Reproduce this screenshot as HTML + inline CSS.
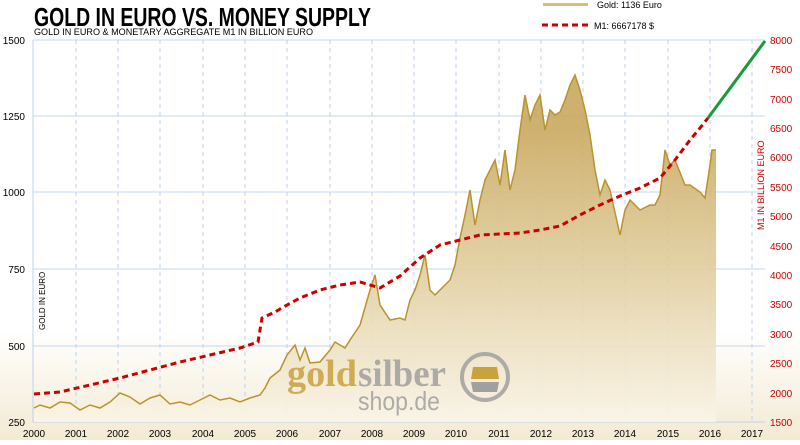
<!DOCTYPE html>
<html><head><meta charset="utf-8"><style>
body{margin:0;width:800px;height:440px;overflow:hidden;background:#fff;font-family:"Liberation Sans",sans-serif}
</style></head><body>
<svg width="800" height="440" xmlns="http://www.w3.org/2000/svg" font-family="Liberation Sans, sans-serif">
<defs>
<linearGradient id="bg" x1="0" y1="0" x2="0" y2="1">
<stop offset="0.75" stop-color="#fff"/><stop offset="1" stop-color="#f3ead3"/></linearGradient>
<linearGradient id="gf" x1="0" y1="0" x2="0" y2="1">
<stop offset="0.15" stop-color="#c9a85e"/><stop offset="0.6" stop-color="#e3d1a5"/><stop offset="1" stop-color="#faf5e8"/></linearGradient>
</defs>
<rect x="0" y="0" width="800" height="440" fill="url(#bg)"/>
<g stroke="#c5d8ee" stroke-width="1">
<line x1="33" y1="40" x2="765" y2="40"/><line x1="33" y1="116" x2="765" y2="116"/><line x1="33" y1="192" x2="765" y2="192"/><line x1="33" y1="269" x2="765" y2="269"/><line x1="33" y1="346" x2="765" y2="346"/>
</g>
<g stroke="#bcd2ec" stroke-dasharray="4,4">
<line x1="76" y1="40" x2="76" y2="422"/><line x1="118" y1="40" x2="118" y2="422"/><line x1="160" y1="40" x2="160" y2="422"/><line x1="203" y1="40" x2="203" y2="422"/><line x1="245" y1="40" x2="245" y2="422"/><line x1="287" y1="40" x2="287" y2="422"/><line x1="330" y1="40" x2="330" y2="422"/><line x1="372" y1="40" x2="372" y2="422"/><line x1="414" y1="40" x2="414" y2="422"/><line x1="456" y1="40" x2="456" y2="422"/><line x1="499" y1="40" x2="499" y2="422"/><line x1="541" y1="40" x2="541" y2="422"/><line x1="583" y1="40" x2="583" y2="422"/><line x1="625" y1="40" x2="625" y2="422"/><line x1="668" y1="40" x2="668" y2="422"/><line x1="710" y1="40" x2="710" y2="422"/><line x1="752" y1="40" x2="752" y2="422"/>
</g>
<line x1="33" y1="40" x2="33" y2="422" stroke="#bcd2ec"/>
<line x1="33" y1="422" x2="765" y2="422" stroke="#bcd2ec"/>
<path d="M34,408 L40,405 L50,408 L60,402 L70,403 L80,410 L90,405 L100,408 L110,402 L120,393 L130,397 L140,404 L150,398 L160,395 L170,404 L180,402 L190,405 L200,400 L210,395 L220,400 L230,398 L240,402 L250,398 L260,395 L265,388 L270,378 L280,370 L287,355 L295,345 L300,360 L305,348 L310,363 L320,362 L330,350 L335,342 L345,348 L350,340 L360,325 L370,290 L375,275 L380,305 L390,320 L400,318 L405,320 L410,300 L415,290 L420,275 L425,255 L430,290 L435,295 L440,290 L450,280 L455,265 L460,238 L465,215 L470,190 L475,225 L480,200 L485,180 L490,170 L495,160 L500,185 L505,150 L510,190 L515,170 L520,130 L525,95 L530,120 L535,105 L540,95 L545,130 L550,110 L555,115 L560,112 L565,100 L570,85 L575,75 L580,90 L585,110 L590,135 L595,170 L600,195 L605,180 L610,190 L620,235 L625,210 L630,200 L640,210 L650,205 L655,205 L660,195 L665,150 L670,165 L675,160 L685,185 L690,185 L700,192 L705,198 L710,165 L712,150 L716,150 L716,422 L34,422Z" fill="url(#gf)" opacity="0.9"/>
<path d="M34,408 L40,405 L50,408 L60,402 L70,403 L80,410 L90,405 L100,408 L110,402 L120,393 L130,397 L140,404 L150,398 L160,395 L170,404 L180,402 L190,405 L200,400 L210,395 L220,400 L230,398 L240,402 L250,398 L260,395 L265,388 L270,378 L280,370 L287,355 L295,345 L300,360 L305,348 L310,363 L320,362 L330,350 L335,342 L345,348 L350,340 L360,325 L370,290 L375,275 L380,305 L390,320 L400,318 L405,320 L410,300 L415,290 L420,275 L425,255 L430,290 L435,295 L440,290 L450,280 L455,265 L460,238 L465,215 L470,190 L475,225 L480,200 L485,180 L490,170 L495,160 L500,185 L505,150 L510,190 L515,170 L520,130 L525,95 L530,120 L535,105 L540,95 L545,130 L550,110 L555,115 L560,112 L565,100 L570,85 L575,75 L580,90 L585,110 L590,135 L595,170 L600,195 L605,180 L610,190 L620,235 L625,210 L630,200 L640,210 L650,205 L655,205 L660,195 L665,150 L670,165 L675,160 L685,185 L690,185 L700,192 L705,198 L710,165 L712,150 L716,150" fill="none" stroke="#b8932e" stroke-width="1.5"/>
<text x="287" y="386" font-size="38" font-weight="bold" fill="#c9a23e" font-family="Liberation Serif, serif" opacity="0.85" textLength="70" lengthAdjust="spacingAndGlyphs">gold</text>
<text x="358" y="386" font-size="38" font-weight="bold" fill="#a0a0a0" font-family="Liberation Serif, serif" opacity="0.85" textLength="88" lengthAdjust="spacingAndGlyphs">silber</text>
<text x="358" y="410" font-size="26" fill="#a0a0a0" opacity="0.85" textLength="82" lengthAdjust="spacingAndGlyphs">shop.de</text>
<circle cx="485" cy="377" r="23" fill="none" stroke="#a0a0a0" stroke-width="4" opacity="0.85"/>
<path d="M473,367 L497,367 L499,379 L471,379Z" fill="#c9a23e"/><path d="M471,382 L499,382 L497,392 L473,392Z" fill="#a0a0a0"/>
<path d="M34,394 L60,392 L90,385 L120,378 L150,370 L180,362 L210,355 L240,348 L258,342 L262,318 L275,312 L287,305 L300,298 L320,290 L340,285 L360,282 L380,288 L400,276 L420,258 L440,245 L460,240 L480,235 L500,234 L520,233 L540,230 L560,226 L580,215 L600,205 L620,196 L640,188 L660,178 L675,160 L690,140 L700,128 L708,118" fill="none" stroke="#cc0000" stroke-width="3" stroke-dasharray="6,4"/>
<line x1="708" y1="118" x2="765" y2="41" stroke="#1a9a3a" stroke-width="3"/>
<text x="34" y="26" font-size="26" font-weight="bold" fill="#000" textLength="337" lengthAdjust="spacingAndGlyphs">GOLD IN EURO VS. MONEY SUPPLY</text>
<text x="34" y="35" font-size="9" fill="#000" textLength="279" lengthAdjust="spacingAndGlyphs">GOLD IN EURO &amp; MONETARY AGGREGATE M1 IN BILLION EURO</text>
<rect x="543" y="3" width="45" height="3" fill="#d8bd7c"/>
<text x="597" y="8" font-size="9" fill="#000">Gold: 1136 Euro</text>
<line x1="542" y1="25" x2="590" y2="25" stroke="#cc0000" stroke-width="3" stroke-dasharray="6,4"/>
<text x="594" y="29" font-size="9" fill="#000">M1: 6667178 $</text>
<g font-size="10" fill="#000" text-anchor="end">
<text x="25" y="44">1500</text><text x="25" y="120">1250</text><text x="25" y="196">1000</text><text x="25" y="273">750</text><text x="25" y="350">500</text><text x="25" y="426">250</text>
</g>
<text transform="translate(45,330) rotate(-90)" font-size="8" fill="#000">GOLD IN EURO</text>
<g font-size="10" fill="#cc0000">
<text x="770" y="44">8000</text><text x="770" y="73">7500</text><text x="770" y="103">7000</text><text x="770" y="132">6500</text><text x="770" y="161">6000</text><text x="770" y="191">5500</text><text x="770" y="220">5000</text><text x="770" y="250">4500</text><text x="770" y="279">4000</text><text x="770" y="308">3500</text><text x="770" y="338">3000</text><text x="770" y="367">2500</text><text x="770" y="397">2000</text><text x="770" y="426">1500</text>
</g>
<text transform="translate(764,230) rotate(-90)" font-size="9" fill="#cc0000">M1 IN BILLION EURO</text>
<g font-size="10" fill="#000" text-anchor="middle">
<text x="34" y="437">2000</text><text x="76" y="437">2001</text><text x="118" y="437">2002</text><text x="160" y="437">2003</text><text x="203" y="437">2004</text><text x="245" y="437">2005</text><text x="287" y="437">2006</text><text x="330" y="437">2007</text><text x="372" y="437">2008</text><text x="414" y="437">2009</text><text x="456" y="437">2010</text><text x="499" y="437">2011</text><text x="541" y="437">2012</text><text x="583" y="437">2013</text><text x="625" y="437">2014</text><text x="668" y="437">2015</text><text x="710" y="437">2016</text><text x="752" y="437">2017</text>
</g>
</svg>
</body></html>
